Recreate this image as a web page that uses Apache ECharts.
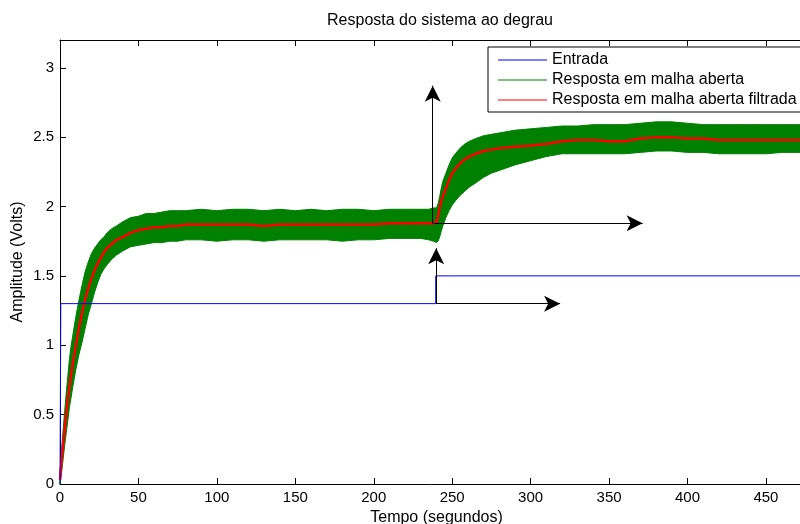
<!DOCTYPE html>
<html>
<head>
<meta charset="utf-8">
<script src="https://cdn.jsdelivr.net/npm/echarts@6/dist/echarts.min.js"></script>
<style>
  html, body { margin: 0; padding: 0; background: #fff; }
  #chart { width: 800px; height: 524px; }
</style>
</head>
<body>
<div id="chart"></div>
<script>
// tempo (s) dos pontos
const tempo = [0, 1, 2, 3, 4, 5, 6, 7, 8, 10, 12, 14, 16, 18, 20, 22, 24, 26, 28, 30, 33, 36, 40, 45, 50, 55, 60, 65, 70, 75, 80, 90,
  100, 110, 120, 130, 140, 150, 160, 170, 180, 190, 200, 210, 220, 230, 235, 238, 240, 241, 242, 243, 244, 246, 248, 250,
  252, 255, 258, 261, 265, 270, 275, 280, 290, 300, 310, 320, 330, 340, 350, 360, 370, 380, 390, 400, 410, 420, 430, 440,
  450, 460, 470, 480];

// resposta filtrada (vermelho)
const filtrada = [0.03, 0.17, 0.29, 0.40, 0.51, 0.61, 0.70, 0.78, 0.86, 0.99, 1.12, 1.23, 1.33, 1.41, 1.48, 1.54, 1.59, 1.63, 1.67, 1.70, 1.73, 1.76, 1.78, 1.81, 1.83, 1.84, 1.85, 1.85, 1.86, 1.86, 1.87, 1.87,
  1.87, 1.87, 1.87, 1.86, 1.87, 1.87, 1.87, 1.87, 1.87, 1.87, 1.87, 1.88, 1.88, 1.88, 1.88, 1.88, 1.89, 1.93, 1.99, 2.04, 2.07, 2.13, 2.19, 2.24,
  2.27, 2.31, 2.34, 2.36, 2.38, 2.40, 2.41, 2.42, 2.43, 2.44, 2.45, 2.47, 2.48, 2.48, 2.47, 2.47, 2.49, 2.50, 2.50, 2.49, 2.49, 2.48, 2.48, 2.48,
  2.48, 2.48, 2.48, 2.48];

// envelope da resposta ruidosa em malha aberta (verde)
const abertaMax = [0.08, 0.25, 0.39, 0.53, 0.66, 0.78, 0.90, 0.99, 1.06, 1.20, 1.32, 1.43, 1.53, 1.60, 1.66, 1.70, 1.73, 1.76, 1.78, 1.81, 1.84, 1.86, 1.89, 1.92, 1.93, 1.95, 1.95, 1.96, 1.97, 1.97, 1.97, 1.98,
  1.97, 1.98, 1.98, 1.97, 1.98, 1.97, 1.98, 1.97, 1.98, 1.98, 1.97, 1.98, 1.98, 1.98, 1.98, 1.99, 1.99, 2.02, 2.07, 2.13, 2.18, 2.24, 2.30, 2.35,
  2.38, 2.42, 2.45, 2.47, 2.49, 2.51, 2.52, 2.53, 2.55, 2.56, 2.57, 2.58, 2.58, 2.59, 2.59, 2.59, 2.60, 2.61, 2.61, 2.60, 2.59, 2.59, 2.59, 2.59,
  2.59, 2.59, 2.59, 2.59];
const abertaMin = [0.00, 0.08, 0.18, 0.28, 0.37, 0.46, 0.55, 0.62, 0.69, 0.82, 0.93, 1.02, 1.12, 1.22, 1.30, 1.38, 1.45, 1.51, 1.55, 1.58, 1.62, 1.65, 1.68, 1.71, 1.72, 1.73, 1.74, 1.74, 1.75, 1.75, 1.76, 1.76,
  1.75, 1.76, 1.76, 1.75, 1.76, 1.76, 1.76, 1.76, 1.75, 1.76, 1.76, 1.77, 1.77, 1.77, 1.76, 1.75, 1.74, 1.75, 1.78, 1.82, 1.86, 1.92, 1.97, 2.01,
  2.04, 2.08, 2.11, 2.14, 2.17, 2.21, 2.24, 2.26, 2.30, 2.33, 2.36, 2.38, 2.38, 2.38, 2.38, 2.38, 2.39, 2.40, 2.40, 2.39, 2.39, 2.38, 2.38, 2.38,
  2.38, 2.39, 2.39, 2.39];

// entrada degrau (azul)
const entradaT = [0, 0.5, 0.5, 239.5, 239.5, 480];
const entradaV = [0, 0, 1.3, 1.3, 1.5, 1.5];

// setas de anotacao (inicio -> ponta)
const setaDe = [[237.6, 1.88], [237.6, 1.88], [239.8, 1.30], [239.8, 1.30]];
const setaAte = [[371.4, 1.88], [237.6, 2.87], [318.8, 1.30], [239.8, 1.70]];

const nomes = ['Entrada', 'Resposta em malha aberta', 'Resposta em malha aberta filtrada'];
const fonte = 'Liberation Sans, Arial, Helvetica, sans-serif';

const chart = echarts.init(document.getElementById('chart'));

const eixoX = {
  type: 'value', min: 0, max: 480, interval: 50,
  axisLine: { lineStyle: { color: '#000', width: 1 } },
  axisTick: { inside: true, length: 6, lineStyle: { color: '#000' } },
  splitLine: { show: false }
};

const option = {
  animation: false,
  backgroundColor: '#fff',
  textStyle: { fontFamily: fonte },
  title: {
    text: 'Resposta do sistema ao degrau',
    left: 435, top: 8, textAlign: 'center',
    textStyle: { fontFamily: fonte, fontSize: 16, fontWeight: 'normal', color: '#000' }
  },
  legend: {
    left: 488, top: 47, orient: 'vertical',
    backgroundColor: '#fff', borderColor: '#000', borderWidth: 1, borderRadius: 0,
    padding: [5, 10, 4, 10], itemGap: 4, itemWidth: 49, itemHeight: 1,
    selectedMode: false,
    textStyle: { fontFamily: fonte, fontSize: 16, color: '#000', lineHeight: 16 },
    data: nomes.map(n => ({ name: n, icon: 'rect' }))
  },
  grid: { left: 60, right: -13, top: 40, bottom: 40, outerBoundsMode: 'none', containLabel: false },
  xAxis: [
    Object.assign({}, eixoX, {
      position: 'bottom',
      name: 'Tempo (segundos)', nameLocation: 'middle', nameGap: 25,
      nameTextStyle: { fontFamily: fonte, fontSize: 16, color: '#000' },
      axisLabel: { fontFamily: fonte, fontSize: 15, color: '#000', margin: 6,
        formatter: v => (v % 50 === 0 ? String(v) : '') }
    }),
    Object.assign({}, eixoX, { position: 'top', axisLabel: { show: false } })
  ],
  yAxis: {
    type: 'value', min: 0, max: 3.2, interval: 0.5,
    name: 'Amplitude (Volts)', nameLocation: 'middle', nameGap: 34, nameMoveOverlap: false,
    nameTextStyle: { fontFamily: fonte, fontSize: 16, color: '#000' },
    axisLine: { show: true, lineStyle: { color: '#000', width: 1 } },
    axisTick: { show: true, inside: true, length: 6, lineStyle: { color: '#000' } },
    axisLabel: { fontFamily: fonte, fontSize: 15, color: '#000', margin: 6,
      formatter: v => (Math.round(v * 10) % 5 === 0 ? String(Math.round(v * 10) / 10) : '') },
    splitLine: { show: false }
  },
  series: [
    {
      name: nomes[1],
      type: 'custom',
      z: 2,
      itemStyle: { color: '#008000' },
      data: [[0, 0]],
      encode: { x: 0, y: 1 },
      renderItem: function (params, api) {
        if (params.dataIndex !== 0) return;
        const pts = [];
        for (let i = 0; i < tempo.length; i++) pts.push(api.coord([tempo[i], abertaMax[i]]));
        for (let i = tempo.length - 1; i >= 0; i--) pts.push(api.coord([tempo[i], abertaMin[i]]));
        return {
          type: 'polygon',
          shape: { points: pts },
          style: { fill: '#008000', stroke: '#008000', lineWidth: 1 }
        };
      }
    },
    {
      name: nomes[2],
      type: 'line',
      z: 3,
      showSymbol: false,
      color: '#ff0000',
      lineStyle: { color: '#ff0000', width: 2.5 },
      data: tempo.map((t, i) => [t, filtrada[i]])
    },
    {
      name: nomes[0],
      type: 'line',
      z: 4,
      showSymbol: false,
      color: '#0000ff',
      lineStyle: { color: '#0000ff', width: 1 },
      data: entradaT.map((t, i) => [t, entradaV[i]])
    },
    {
      name: 'setas',
      type: 'line',
      z: 5,
      data: [],
      markLine: {
        silent: true,
        animation: false,
        symbol: ['none', 'arrow'],
        symbolSize: [12, 16],
        label: { show: false },
        lineStyle: { color: '#000', width: 1, type: 'solid' },
        itemStyle: { color: '#000' },
        emphasis: { disabled: true },
        data: setaDe.map((p, i) => [{ coord: p }, { coord: setaAte[i] }])
      }
    }
  ]
};

chart.setOption(option);
</script>
</body>
</html>
